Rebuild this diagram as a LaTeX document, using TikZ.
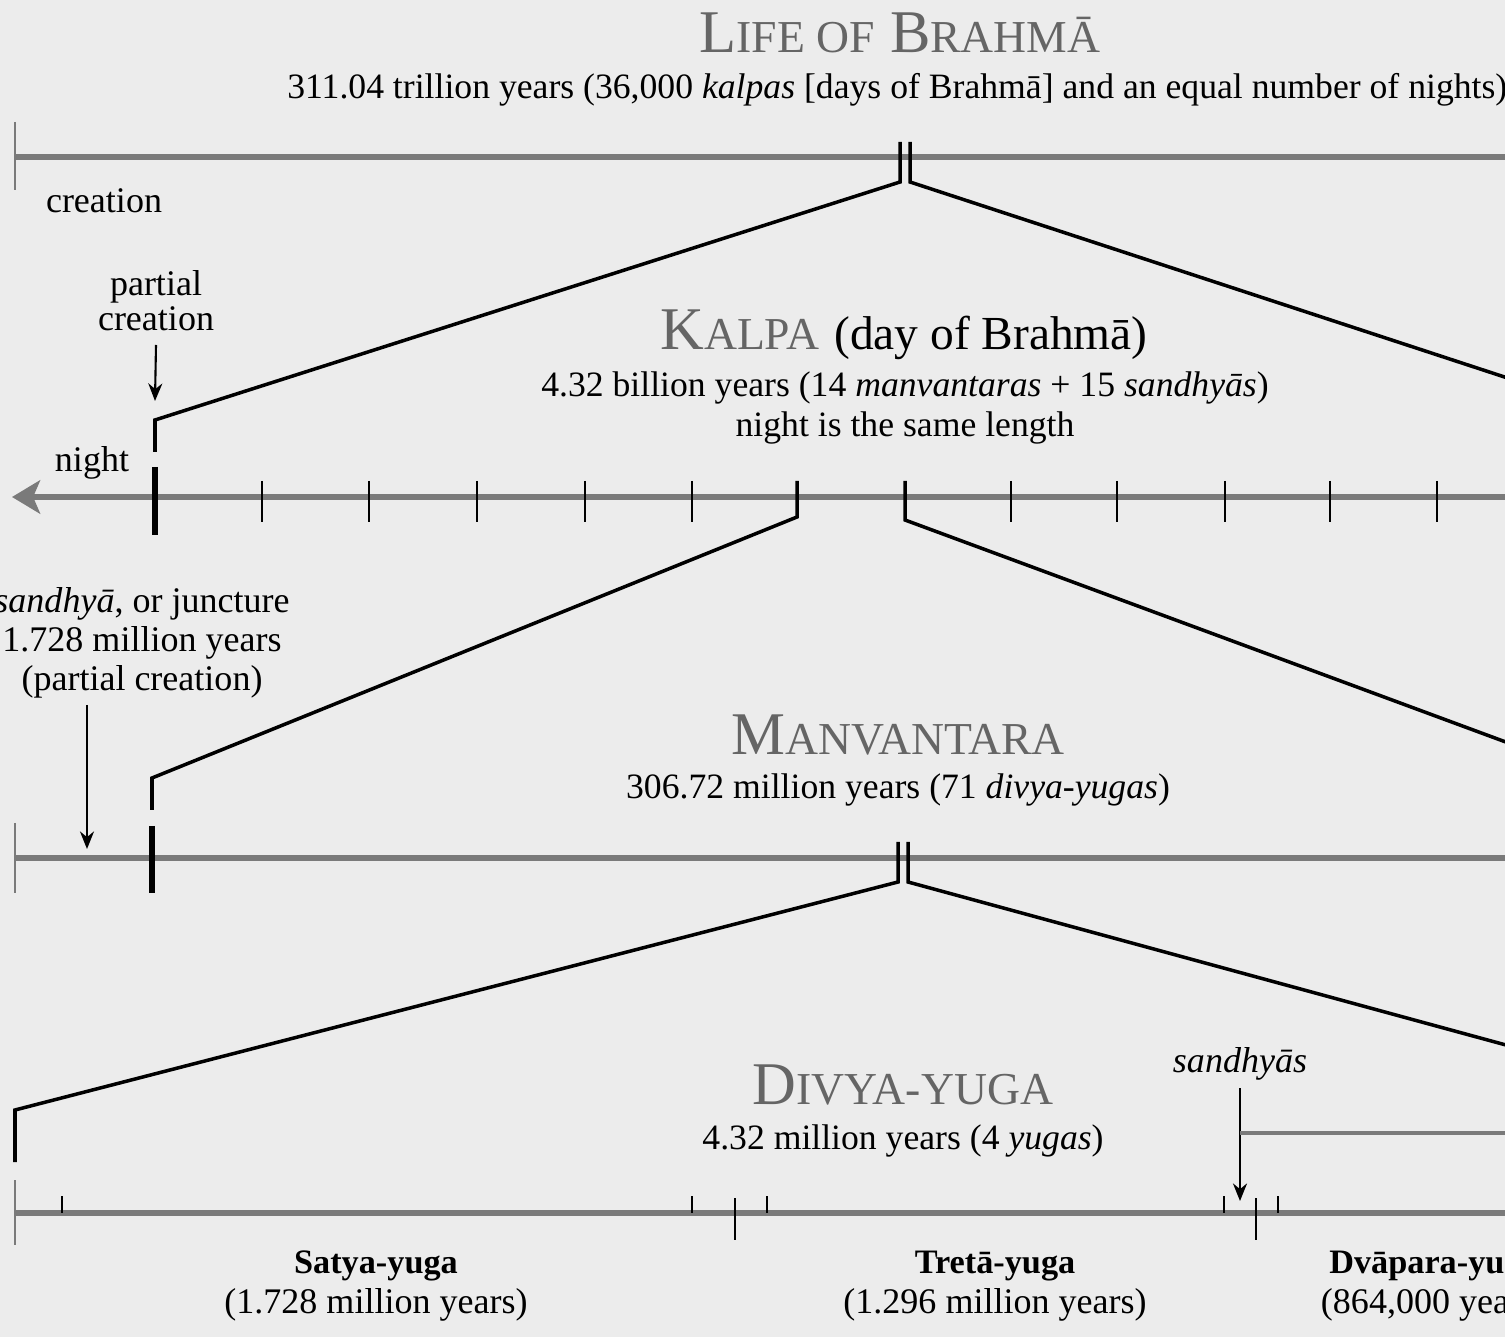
\documentclass[tikz,border=0pt]{standalone}
\usepackage{fontspec}
\setmainfont{Liberation Serif}
\usetikzlibrary{arrows.meta}
\definecolor{paper}{HTML}{ECECEC}
\definecolor{rulegray}{HTML}{7A7A7A}
\definecolor{headgray}{HTML}{656565}
\newcommand{\sccap}[2]{#1{\fontsize{26}{26}\selectfont #2}}
\tikzstyle{timeline} = [line width=2.9pt, rulegray]
\tikzstyle{endtick} = [line width=1.6pt, rulegray]
\tikzstyle{tick} = [line width=1.5pt, black]
\tikzstyle{bigtick} = [line width=3pt, black]
\tikzstyle{fan} = [line width=2pt, black, line join=miter]
\tikzstyle{pointer} = [line width=1.2pt, black, -{Stealth[length=10pt, width=8pt]}]
\tikzstyle{heading} = [text=headgray, font=\fontsize{34.5}{34.5}\selectfont, inner sep=0pt]
\tikzstyle{info} = [font=\fontsize{20.3}{22.7}\selectfont, align=center, inner sep=0pt]
\tikzstyle{label} = [font=\fontsize{20.5}{20}\selectfont, align=center, inner sep=0pt]
\tikzstyle{yuga} = [font=\fontsize{20.5}{22.7}\selectfont, align=center, inner sep=0pt]

\begin{document}
\begin{tikzpicture}[x=0.02cm, y=-0.02cm]
        \useasboundingbox (0,0) rectangle (1505,1337);
        \fill [paper] (0,0) rectangle (1505,1337);
        \clip (0,0) rectangle (1505,1337);

        % life of Brahma
        \node [heading] at (900,33) (lifetitle) {\sccap{L}{IFE OF} \sccap{B}{RAHMĀ}};
        \node [info, anchor=west] at (287,90) (lifeinfo) {311.04 trillion years (36,000 \textit{kalpas} [days of Brahmā] and an equal number of nights)};
        \coordinate (lifestart) at (15,157);
        \coordinate (lifeend) at (1505,157);
        \draw [timeline] (lifestart) -- (lifeend);
        \draw [endtick] (15,122) -- (15,190);
        \node [label] at (104,201) (creation) {creation};
        \coordinate (lifeA) at (900,142);
        \coordinate (lifeAb) at (900,182);
        \coordinate (lifeB) at (910,142);
        \coordinate (lifeBb) at (910,182);
        \coordinate (kalpaL) at (155,420);
        \coordinate (kalpaLb) at (155,452);
        \coordinate (kalpaR) at (1660,428);
        \draw [fan] (lifeA) -- (lifeAb) -- (kalpaL) -- (kalpaLb);
        \draw [fan] (lifeB) -- (lifeBb) -- (kalpaR);

        % kalpa
        \node [label] at (156,301) (partial) {partial\\creation};
        \coordinate (partialtip) at (155,401);
        \draw [pointer] (partial.south |- 0,345) -- (partialtip);
        \node [heading] at (904,335) (kalpatitle) {\sccap{K}{ALPA} {\color{black}\fontsize{27}{27}\selectfont(day of Brahmā)}};
        \node [info] at (905,408) (kalpainfo) {4.32 billion years (14 \textit{manvantaras} + 15 \textit{sandhyās})\\night is the same length};
        \node [label] at (92,463) (night) {night};
        \coordinate (kalpastart) at (12,497);
        \coordinate (kalpaend) at (1505,497);
        \draw [timeline, -{Stealth[length=16pt, width=19pt, inset=4pt]}] (kalpaend) -- (kalpastart);
        \draw [bigtick] (155,467) -- (155,535);
        \foreach \x in {262,369,477,585,692,1011,1117,1225,1330,1437}
            \draw [tick] (\x,481) -- (\x,522);
        \coordinate (kalpaA) at (797,481);
        \coordinate (kalpaAb) at (797,517);
        \coordinate (kalpaB) at (905,481);
        \coordinate (kalpaBb) at (905,520);
        \coordinate (manvL) at (152,778);
        \coordinate (manvLb) at (152,810);
        \coordinate (manvR) at (1660,799);
        \draw [fan] (kalpaA) -- (kalpaAb) -- (manvL) -- (manvLb);
        \draw [fan] (kalpaB) -- (kalpaBb) -- (manvR);

        % manvantara
        \node [label, font=\fontsize{20.5}{22.2}\selectfont] at (142,643) (juncture) {\textit{sandhyā}, or juncture\\1.728 million years\\(partial creation)};
        \coordinate (juncturetip) at (87,849);
        \draw [pointer] (87,705) -- (juncturetip);
        \node [heading] at (898,735) (manvtitle) {\sccap{M}{ANVANTARA}};
        \node [info] at (898,790) (manvinfo) {306.72 million years (71 \textit{divya-yugas})};
        \coordinate (manvstart) at (15,858);
        \coordinate (manvend) at (1505,858);
        \draw [timeline] (manvstart) -- (manvend);
        \draw [endtick] (15,823) -- (15,893);
        \draw [bigtick] (152,826) -- (152,893);
        \coordinate (manvA) at (898,842);
        \coordinate (manvAb) at (898,882);
        \coordinate (manvB) at (908,842);
        \coordinate (manvBb) at (908,882);
        \coordinate (divyaL) at (15,1110);
        \coordinate (divyaLb) at (15,1162);
        \coordinate (divyaR) at (1660,1087);
        \draw [fan] (manvA) -- (manvAb) -- (divyaL) -- (divyaLb);
        \draw [fan] (manvB) -- (manvBb) -- (divyaR);

        % divya-yuga
        \node [heading] at (903,1085) (divyatitle) {\sccap{D}{IVYA-YUGA}};
        \node [info] at (903,1141) (divyainfo) {4.32 million years (4 \textit{yugas})};
        \node [label] at (1240,1064) (sandhyas) {\textit{sandhyās}};
        \coordinate (sandhyatip) at (1240,1201);
        \coordinate (bracket) at (1240,1133);
        \coordinate (bracketend) at (1505,1133);
        \draw [pointer] (sandhyas.south |- 0,1088) -- (sandhyatip);
        \draw [line width=1.8pt, rulegray] (bracket) -- (bracketend);
        \coordinate (divyastart) at (15,1213);
        \coordinate (divyaend) at (1505,1213);
        \draw [timeline] (divyastart) -- (divyaend);
        \draw [endtick] (15,1180) -- (15,1245);
        \foreach \x in {62,692,767,1224,1278}
            \draw [tick, line width=1.2pt] (\x,1196) -- (\x,1213);
        \foreach \x in {735,1256}
            \draw [tick] (\x,1198) -- (\x,1240);
        \node [yuga] at (376,1286) (satya) {{\fontsize{19.5}{22.7}\selectfont\textbf{Satya-yuga}}\\(1.728 million years)};
        \node [yuga] at (995,1286) (treta) {{\fontsize{19.5}{22.7}\selectfont\textbf{Tretā-yuga}}\\(1.296 million years)};
        \node [yuga] at (1434,1286) (dvapara) {{\fontsize{19.5}{22.7}\selectfont\textbf{Dvāpara-yuga}}\\(864,000 years)};
\end{tikzpicture}
\end{document}
